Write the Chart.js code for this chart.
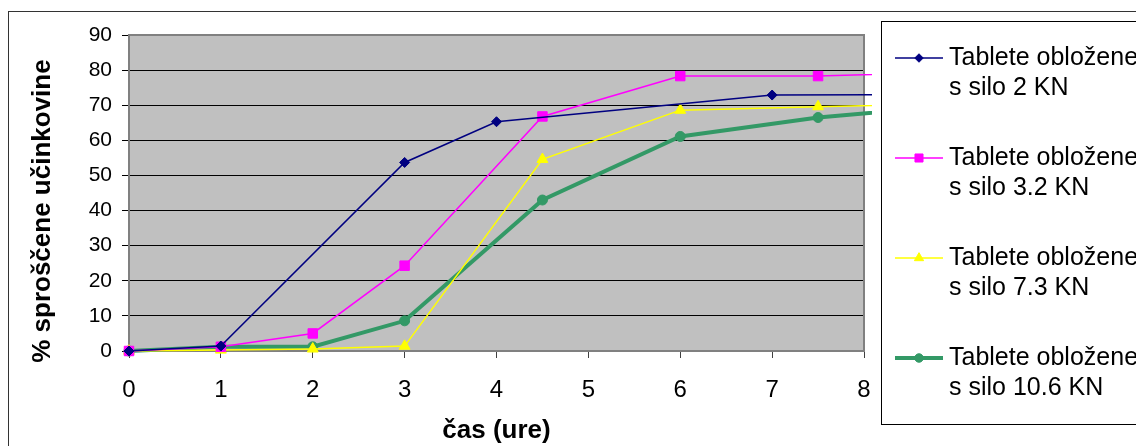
<!DOCTYPE html>
<html>
<head>
<meta charset="utf-8">
<script src="https://cdn.jsdelivr.net/npm/chart.js@4/dist/chart.umd.min.js"></script>
<style>
  body { margin: 0; background: #fff; }
  canvas { display: block; }
</style>
</head>
<body>
<canvas id="releaseChart" width="1136" height="446"></canvas>
<script>
// time points (hours) and released drug (%)
const navyTimes = [0, 1, 3, 4, 7, 9];
const navyValues = [0, 1.4, 53.7, 65.3, 72.9, 73.0];
const times = [0, 1, 2, 3, 4.5, 6, 7.5, 9];
const pinkValues = [0, 1.2, 5.0, 24.3, 66.8, 78.3, 78.3, 79.5];
const yellowValues = [0, 0.3, 0.6, 1.4, 54.6, 68.6, 69.6, 70.4];
const greenValues = [0, 1.2, 1.2, 8.6, 43.0, 61.1, 66.5, 70.0];

const seriesLabels = [
    ['Tablete obložene', 's silo 2 KN'],
    ['Tablete obložene', 's silo 3.2 KN'],
    ['Tablete obložene', 's silo 7.3 KN'],
    ['Tablete obložene', 's silo 10.6 KN']
];
const xTicks = [0, 1, 2, 3, 4, 5, 6, 7, 8];
const yTicks = [0, 10, 20, 30, 40, 50, 60, 70, 80, 90];

const FONT = 'Arial, "Liberation Sans", sans-serif';
Chart.defaults.font.family = FONT;
Chart.defaults.color = '#000';

function toPoints(xs, ys) {
    return xs.map((x, i) => ({ x: x, y: ys[i] }));
}

function makeSet(label, xs, ys, color, style, radius, width) {
    return {
        label: label.join(' '),
        data: toPoints(xs, ys),
        borderColor: color,
        backgroundColor: color,
        pointBackgroundColor: color,
        pointBorderColor: color,
        pointStyle: style,
        pointRadius: radius,
        pointHoverRadius: radius,
        pointBorderWidth: 1,
        borderWidth: width,
        tension: 0,
        clip: { left: 10, top: 10, right: 8, bottom: 10 }
    };
}

// grey plot area, frame around the whole chart
const frame = {
    id: 'frame',
    beforeDraw(chart) {
        const ctx = chart.ctx;
        const a = chart.chartArea;
        ctx.save();
        ctx.fillStyle = '#C0C0C0';
        ctx.fillRect(a.left, a.top, a.right - a.left, a.bottom - a.top);
        ctx.strokeStyle = '#333';
        ctx.lineWidth = 1;
        ctx.strokeRect(8.5, 11.5, 1200, 500);
        ctx.restore();
    },
    beforeDatasetsDraw(chart) {
        const ctx = chart.ctx;
        const a = chart.chartArea;
        ctx.save();
        ctx.strokeStyle = '#808080';
        ctx.lineWidth = 2;
        ctx.beginPath();
        ctx.moveTo(a.left, a.top);
        ctx.lineTo(a.right, a.top);
        ctx.lineTo(a.right, a.bottom);
        ctx.stroke();
        ctx.restore();
    }
};

// boxed legend with two-line labels
const sideLegend = {
    id: 'sideLegend',
    afterDraw(chart) {
        const ctx = chart.ctx;
        ctx.save();
        ctx.strokeStyle = '#000';
        ctx.lineWidth = 1;
        ctx.strokeRect(881.5, 21.5, 400, 403);
        chart.data.datasets.forEach((ds, i) => {
            const y = 58 + i * 100;
            ctx.strokeStyle = ds.borderColor;
            ctx.lineWidth = ds.borderWidth;
            ctx.beginPath();
            ctx.moveTo(895, y);
            ctx.lineTo(943, y);
            ctx.stroke();
            ctx.fillStyle = ds.pointBackgroundColor;
            ctx.lineWidth = 1;
            Chart.helpers.drawPoint(ctx, { pointStyle: ds.pointStyle, radius: ds.pointRadius * 0.85, borderWidth: 1 }, 919, y);
            ctx.fillStyle = '#000';
            ctx.font = '25px ' + FONT;
            ctx.textBaseline = 'alphabetic';
            ctx.textAlign = 'left';
            seriesLabels[i].forEach((line, j) => {
                ctx.fillText(line, 949, y + 7 + j * 30);
            });
        });
        ctx.restore();
    }
};

const ctx = document.getElementById('releaseChart').getContext('2d');
new Chart(ctx, {
    type: 'line',
    data: {
        datasets: [
            makeSet(seriesLabels[0], navyTimes, navyValues, '#000080', 'rectRot', 5, 1.5),
            makeSet(seriesLabels[1], times, pinkValues, '#FF00FF', 'rect', 6.7, 1.5),
            makeSet(seriesLabels[2], times, yellowValues, '#FFFF00', 'triangle', 6.3, 1.5),
            makeSet(seriesLabels[3], times, greenValues, '#339966', 'circle', 5, 4)
        ]
    },
    options: {
        responsive: false,
        animation: false,
        devicePixelRatio: 1,
        layout: { padding: { left: 0, top: 35, right: 272, bottom: 0 } },
        plugins: {
            legend: { display: false },
            tooltip: { enabled: false }
        },
        scales: {
            x: {
                type: 'linear',
                min: 0,
                max: 8,
                afterFit: s => { s.height = 95; },
                afterBuildTicks: s => { s.ticks = xTicks.map(v => ({ value: v })); },
                ticks: { font: { size: 24 }, padding: 18, maxRotation: 0, autoSkip: false },
                grid: { drawOnChartArea: false, tickLength: 7, tickColor: '#404040' },
                border: { color: '#808080', width: 2 },
                title: {
                    display: true,
                    text: 'čas (ure)',
                    font: { size: 26, weight: 'bold' },
                    padding: { top: 0, bottom: 0 }
                }
            },
            y: {
                min: 0,
                max: 90,
                afterFit: s => { s.width = 129; },
                afterBuildTicks: s => { s.ticks = yTicks.map(v => ({ value: v })); },
                ticks: { font: { size: 21 }, padding: 10 },
                grid: {
                    color: c => (c.tick && (c.tick.value === 0 || c.tick.value === 90)) ? 'rgba(0,0,0,0)' : '#000',
                    tickColor: '#000',
                    tickLength: 7,
                    lineWidth: 1
                },
                border: { color: '#808080', width: 2 },
                title: {
                    display: true,
                    // trailing spaces push the rotated title a little lower, as in the original
                    text: '% sproščene učinkovine     ',
                    font: { size: 26, weight: 'bold' },
                    padding: { top: 27, bottom: 0 }
                }
            }
        }
    },
    plugins: [frame, sideLegend]
});
</script>
</body>
</html>
